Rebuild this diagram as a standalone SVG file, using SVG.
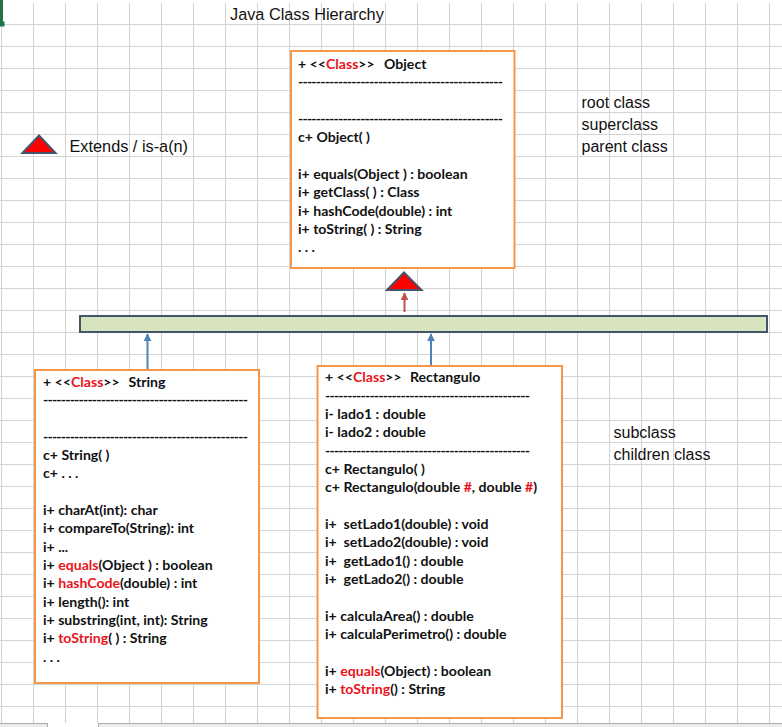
<svg xmlns="http://www.w3.org/2000/svg" width="782" height="727" viewBox="0 0 782 727">
  <style>
    .sheet { fill: #ffffff; }
    .lbl { font-family: "Liberation Sans", Arial, sans-serif; font-size: 16px; fill: #111111; }
    .box { fill: #ffffff; stroke: #F79646; stroke-width: 2; }
    .t { font-family: Lato, "Noto Sans", sans-serif; font-weight: 700; font-size: 14.1px; fill: #111111; white-space: pre; }
    .r { fill: #E8141C; }
    .bus { fill: #D7E4BD; stroke: #44546A; stroke-width: 2; }
    .tri { fill: #FF0000; stroke: #44546A; stroke-width: 2; stroke-linejoin: miter; }
    .up-blue { stroke: #4F81BD; stroke-width: 2; fill: none; }
    .up-red { stroke: #C0504D; stroke-width: 2; fill: none; }
  </style>
  <defs>
    <pattern id="cells" patternUnits="userSpaceOnUse" x="1" y="2" width="32" height="22">
      <path d="M0.5 0V22M0 0.5H32" stroke="#D4D4D4" stroke-width="1" fill="none"/>
    </pattern>
    <marker id="head-blue" viewBox="0 0 10 10" refX="9" refY="5" markerWidth="4" markerHeight="4" orient="auto">
      <path d="M0 0L10 5L0 10Z" fill="#4F81BD"/>
    </marker>
    <marker id="head-red" viewBox="0 0 10 10" refX="9" refY="5" markerWidth="4" markerHeight="4" orient="auto">
      <path d="M0 0L10 5L0 10Z" fill="#C0504D"/>
    </marker>
  </defs>

  <!-- worksheet background and cell grid -->
  <rect class="sheet" x="0" y="0" width="782" height="727"/>
  <rect x="0" y="3" width="782" height="720" fill="url(#cells)"/>

  <!-- active cell marker -->
  <g id="active-cell">
    <rect x="0" y="0" width="3" height="22" fill="#217346"/>
    <rect x="0" y="21.5" width="4.5" height="5" fill="#217346"/>
  </g>

  <!-- sheet tab strip -->
  <g id="tab-strip">
    <rect x="-1" y="723.5" width="48.5" height="6" fill="#ECECEC" stroke="#ABABAB" stroke-width="1"/>
    <rect x="98.5" y="723.5" width="690" height="6" fill="#ECECEC" stroke="#ABABAB" stroke-width="1"/>
  </g>

  <!-- title -->
  <text id="title" class="lbl" x="230" y="19.5" style="font-size:16.3px">Java Class Hierarchy</text>

  <!-- legend -->
  <g id="legend">
    <path class="tri" d="M22.5 153L39 135.5L55.5 153Z"/>
    <text class="lbl" x="69.5" y="152" style="font-size:16.3px">Extends / is-a(n)</text>
  </g>

  <!-- side notes -->
  <g id="note-super">
    <text class="lbl" x="581.5" y="108">root class</text>
    <text class="lbl" x="581.5" y="130">superclass</text>
    <text class="lbl" x="581.5" y="152">parent class</text>
  </g>
  <g id="note-sub">
    <text class="lbl" x="613.5" y="438">subclass</text>
    <text class="lbl" x="613.5" y="460">children class</text>
  </g>

  <!-- class Object -->
  <g id="class-object">
    <rect class="box" x="291" y="51" width="223.5" height="217"/>
    <text class="t" x="298" y="69">+ &lt;&lt;<tspan class="r">Class</tspan>&gt;&gt;</text>
    <text class="t" x="384" y="69">Object</text>
    <text class="t" x="298" y="87.3" textLength="205" lengthAdjust="spacing">----------------------------------------------</text>
    <text class="t" x="298" y="124" textLength="205" lengthAdjust="spacing">----------------------------------------------</text>
    <text class="t" x="298" y="142.3">c+ Object( )</text>
    <text class="t" x="298" y="179">i+ equals(Object ) : boolean</text>
    <text class="t" x="298" y="197.3">i+ getClass( ) : Class</text>
    <text class="t" x="298" y="215.7">i+ hashCode(double) : int</text>
    <text class="t" x="298" y="234">i+ toString( ) : String</text>
    <text class="t" x="298" y="252.3">. . .</text>
  </g>

  <!-- inheritance bus -->
  <g id="hierarchy-bus">
    <rect class="bus" x="80" y="316" width="687" height="16"/>
  </g>

  <!-- connectors -->
  <g id="connectors">
    <line class="up-blue" x1="147.5" y1="369" x2="147.5" y2="334" marker-end="url(#head-blue)"/>
    <line class="up-blue" x1="431" y1="365" x2="431" y2="334" marker-end="url(#head-blue)"/>
    <line class="up-red" x1="404.5" y1="312" x2="404.5" y2="293" marker-end="url(#head-red)"/>
    <path class="tri" d="M387 290L404 272.5L421.5 290Z"/>
  </g>

  <!-- class String -->
  <g id="class-string">
    <rect class="box" x="35" y="370" width="224" height="313"/>
    <text class="t" x="43" y="386.7">+ &lt;&lt;<tspan class="r">Class</tspan>&gt;&gt;</text>
    <text class="t" x="128.5" y="386.7">String</text>
    <text class="t" x="43" y="405" textLength="205" lengthAdjust="spacing">----------------------------------------------</text>
    <text class="t" x="43" y="441.7" textLength="205" lengthAdjust="spacing">----------------------------------------------</text>
    <text class="t" x="43" y="460">c+ String( )</text>
    <text class="t" x="43" y="478.3">c+ . . .</text>
    <text class="t" x="43" y="515">i+ charAt(int): char</text>
    <text class="t" x="43" y="533.3">i+ compareTo(String): int</text>
    <text class="t" x="43" y="551.7">i+ ...</text>
    <text class="t" x="43" y="570">i+ <tspan class="r">equals</tspan>(Object ) : boolean</text>
    <text class="t" x="43" y="588.3">i+ <tspan class="r">hashCode</tspan>(double) : int</text>
    <text class="t" x="43" y="606.7">i+ length(): int</text>
    <text class="t" x="43" y="625">i+ substring(int, int): String</text>
    <text class="t" x="43" y="643.3">i+ <tspan class="r">toString</tspan>( ) : String</text>
    <text class="t" x="43" y="661.7">. . .</text>
  </g>

  <!-- class Rectangulo -->
  <g id="class-rectangulo">
    <rect class="box" x="317.5" y="366" width="244.5" height="352"/>
    <text class="t" x="325" y="382.3">+ &lt;&lt;<tspan class="r">Class</tspan>&gt;&gt;</text>
    <text class="t" x="410" y="382.3">Rectangulo</text>
    <text class="t" x="325" y="400.6" textLength="205" lengthAdjust="spacing">----------------------------------------------</text>
    <text class="t" x="325" y="419">i- lado1 : double</text>
    <text class="t" x="325" y="437.3">i- lado2 : double</text>
    <text class="t" x="325" y="455.6" textLength="205" lengthAdjust="spacing">----------------------------------------------</text>
    <text class="t" x="325" y="474">c+ Rectangulo( )</text>
    <text class="t" x="325" y="492.3">c+ Rectangulo(double <tspan class="r">#</tspan>, double <tspan class="r">#</tspan>)</text>
    <text class="t" x="325" y="529">i+  setLado1(double) : void</text>
    <text class="t" x="325" y="547.3">i+  setLado2(double) : void</text>
    <text class="t" x="325" y="565.6">i+  getLado1() : double</text>
    <text class="t" x="325" y="584">i+  getLado2() : double</text>
    <text class="t" x="325" y="620.6">i+ calculaArea() : double</text>
    <text class="t" x="325" y="639">i+ calculaPerimetro() : double</text>
    <text class="t" x="325" y="675.6">i+ <tspan class="r">equals</tspan>(Object) : boolean</text>
    <text class="t" x="325" y="694">i+ <tspan class="r">toString</tspan>() : String</text>
  </g>
</svg>
